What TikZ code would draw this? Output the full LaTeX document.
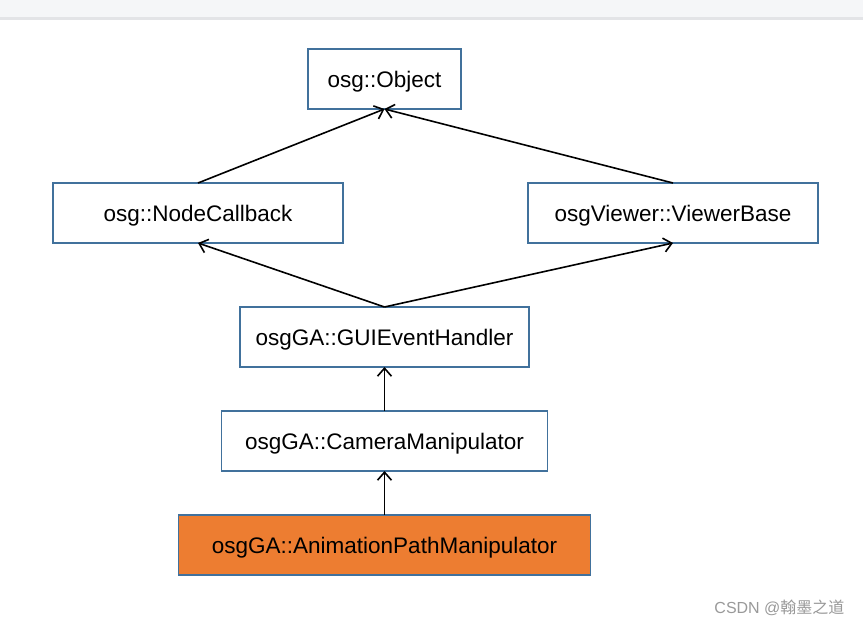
\documentclass[tikz,border=0pt]{standalone}
\usepackage{fontspec}
\setmainfont{Liberation Sans}
\newfontfamily\cjk{Noto Sans CJK SC}
\usetikzlibrary{arrows.meta}
\usetikzlibrary{positioning}
\definecolor{boxblue}{HTML}{41719C}
\definecolor{boxorange}{HTML}{ED7D31}
\definecolor{topbar}{HTML}{F5F6F8}
\definecolor{topedge}{HTML}{E3E4E7}

\begin{document}
\begin{tikzpicture}[x=1pt,y=-1pt,node distance=44pt,class node/.style={rectangle,draw=boxblue,line width=1.8pt,outer sep=0pt,inner sep=0pt,minimum height=60pt,text depth=0pt,font=\fontsize{22.5}{26}\selectfont}]

				\useasboundingbox (0,0) rectangle (863,627);
				\fill[topbar] (0,0) rectangle (863,20);
				\fill[topedge] (0,17) rectangle (863,20);

				\node[class node,minimum width=153pt] (Object) at (384.5,79) {osg::Object};
				\node[class node,minimum width=290pt] (NodeCallback) at (198,213) {osg::NodeCallback};
				\node[class node,minimum width=290pt] (ViewerBase) at (673,213) {osgViewer::ViewerBase};
				\node[class node,minimum width=289pt] (GUIEventHandler) at (384.5,337) {osgGA::GUIEventHandler};
				\node[class node,minimum width=326pt] (CameraManipulator) [below=44pt of GUIEventHandler] {osgGA::CameraManipulator};
				\node[class node,minimum width=412pt,fill=boxorange] (AnimationPathManipulator) [below=44pt of CameraManipulator] {osgGA::AnimationPathManipulator};

				\node[anchor=base east,text=black!40,font=\fontsize{16}{19}\selectfont] (mark) at (848,613) {CSDN @{\cjk 翰墨之道}};

				\path[->,>={Straight Barb[length=8pt,width=14pt]},line width=1.6pt]
				(NodeCallback.north) edge (Object.south)
				(ViewerBase.north) edge (Object.south)
				(GUIEventHandler.north) edge (NodeCallback.south)
				(GUIEventHandler.north) edge (ViewerBase.south)
				(CameraManipulator) edge (GUIEventHandler)
				(AnimationPathManipulator) edge (CameraManipulator);

\end{tikzpicture}
\end{document}
